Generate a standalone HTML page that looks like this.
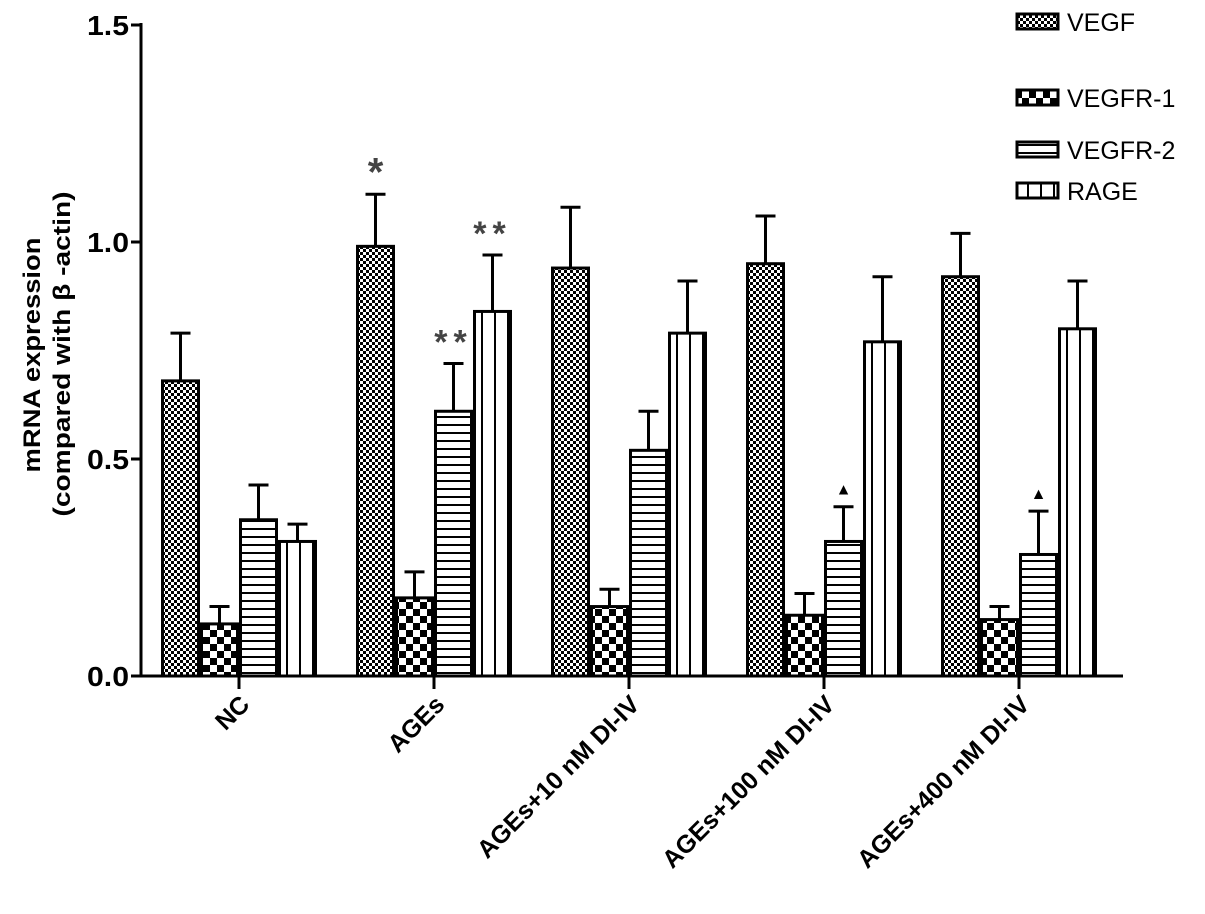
<!DOCTYPE html>
<html><head><meta charset="utf-8"><style>
body{margin:0;background:#fff}
svg text{font-family:"Liberation Sans",sans-serif}
</style></head><body>
<svg id="chart" width="1205" height="909">
<defs>
<pattern id="p0" width="6" height="6" patternUnits="userSpaceOnUse"><rect width="6" height="6" fill="#fff"/><rect width="3" height="3" fill="#000"/><rect x="3" y="3" width="3" height="3" fill="#000"/></pattern>
<pattern id="p1" width="14" height="14" patternUnits="userSpaceOnUse"><rect width="14" height="14" fill="#fff"/><rect width="7" height="7" fill="#000"/><rect x="7" y="7" width="7" height="7" fill="#000"/></pattern>
<pattern id="p2" width="10" height="8" patternUnits="userSpaceOnUse"><rect width="10" height="8" fill="#fff"/><rect y="0" width="10" height="2" fill="#000"/></pattern>
<pattern id="p3" width="13" height="10" patternUnits="userSpaceOnUse"><rect width="13" height="10" fill="#fff"/><rect x="0" width="2" height="10" fill="#000"/></pattern>
</defs>
<g id="bars"></g>
<g id="axes"></g>
<g id="legend"></g>
<text transform="translate(40,355) rotate(-90)" text-anchor="middle" font-weight="bold" font-size="24" textLength="235" lengthAdjust="spacingAndGlyphs">mRNA expression</text>
<text transform="translate(70,354) rotate(-90)" text-anchor="middle" font-weight="bold" font-size="24" textLength="325" lengthAdjust="spacingAndGlyphs">(compared with β -actin)</text>
</svg>
<script>
const categories=["NC","AGEs","AGEs+10 nM DI-IV","AGEs+100 nM DI-IV","AGEs+400 nM DI-IV"];
const seriesNames=["VEGF","VEGFR-1","VEGFR-2","RAGE"];
const vegf=[0.68,0.99,0.94,0.95,0.92];
const vegfErr=[0.11,0.12,0.14,0.11,0.10];
const vegfr1=[0.12,0.18,0.16,0.14,0.13];
const vegfr1Err=[0.04,0.06,0.04,0.05,0.03];
const vegfr2=[0.36,0.61,0.52,0.31,0.28];
const vegfr2Err=[0.08,0.11,0.09,0.08,0.10];
const rage=[0.31,0.84,0.79,0.77,0.80];
const rageErr=[0.04,0.13,0.12,0.15,0.11];
const yTicks=[0,0.5,1.0,1.5];
const yTickLabels=["0.0","0.5","1.0","1.5"];
const annotations=[{c:1,s:0,t:"*"},{c:1,s:2,t:"**"},{c:1,s:3,t:"**"},{c:3,s:2,t:"▲"},{c:4,s:2,t:"▲"}];

const NS="http://www.w3.org/2000/svg";
const y0=676,yTop=25,x0=141,groupW=195,firstCenter=239,barPitch=39,barW=36;
const y=v=>y0-(v/1.5)*(y0-yTop);
const xc=i=>firstCenter+i*groupW;
const bx=(i,s)=>xc(i)-2*barPitch+s*barPitch+1.5;
function mk(tag,attrs,parent){const e=document.createElementNS(NS,tag);for(const k in attrs)e.setAttribute(k,attrs[k]);parent.appendChild(e);return e;}
const vals=[vegf,vegfr1,vegfr2,rage],errs=[vegfErr,vegfr1Err,vegfr2Err,rageErr];
const gb=document.getElementById('bars');
vals.forEach((arr,s)=>{arr.forEach((v,i)=>{
 const x=bx(i,s),top=y(v),te=y(v+errs[s][i]),cx=x+barW/2;
 const l=mk('line',{x1:cx,x2:cx,y1:top,y2:te,stroke:'#000','stroke-width':3},gb);
 
 
 const c=mk('line',{x1:cx-10,x2:cx+10,y1:te,y2:te,stroke:'#000','stroke-width':3},gb);
 
 
 const r=mk('rect',{x:x,y:top,width:barW,height:y0-top,fill:'url(#p'+s+')',stroke:'#000','stroke-width':3},gb);
 
 
});});
annotations.forEach(a=>{
 const v=vals[a.s][a.c]+errs[a.s][a.c];
 const size=a.t==="▲"?16:(a.t==="*"?40:34);
 const off=a.t==="▲"?12:(a.t==="*"?9:10);
 const t=mk('text',{x:bx(a.c,a.s)+barW/2,y:y(v)-off,'text-anchor':'middle','font-size':size,'font-weight':'bold',fill:a.t==="▲"?'#000':'#444'},gb);
 if(a.t==="**"){t.setAttribute('letter-spacing','6');}
 t.textContent=a.t;
 
 
});
const ga=document.getElementById('axes');
mk('line',{x1:x0,x2:x0,y1:yTop-2,y2:y0+1.5,stroke:'#000','stroke-width':3},ga);
mk('line',{x1:x0-1.5,x2:1123,y1:y0,y2:y0,stroke:'#000','stroke-width':3},ga);
yTicks.forEach((v,k)=>{
 mk('line',{x1:x0-10,x2:x0,y1:y(v),y2:y(v),stroke:'#000','stroke-width':3},ga);
 const t=mk('text',{x:x0-12,y:y(v)+10,'text-anchor':'end','font-size':28,'font-weight':'bold',textLength:42,lengthAdjust:'spacingAndGlyphs'},ga);
 t.textContent=yTickLabels[k];
 
 
});
categories.forEach((c,i)=>{
 mk('line',{x1:xc(i),x2:xc(i),y1:y0,y2:y0+13,stroke:'#000','stroke-width':3},ga);
 const t=mk('text',{transform:'translate('+(xc(i)+12)+',706) rotate(-45)','text-anchor':'end','font-size':25,'font-weight':'bold'},ga);
 t.textContent=c;
 
 
});
const gl=document.getElementById('legend');
const legY=[22,98,150,191];
seriesNames.forEach((n,s)=>{
 const r=mk('rect',{x:1017,y:legY[s]-8,width:41,height:15,fill:'url(#p'+s+')',stroke:'#000','stroke-width':3},gl);
 
 
 const t=mk('text',{x:1067,y:legY[s]+9,'font-size':25},gl);
 t.textContent=n;
 
 
});
</script>
</body></html>
